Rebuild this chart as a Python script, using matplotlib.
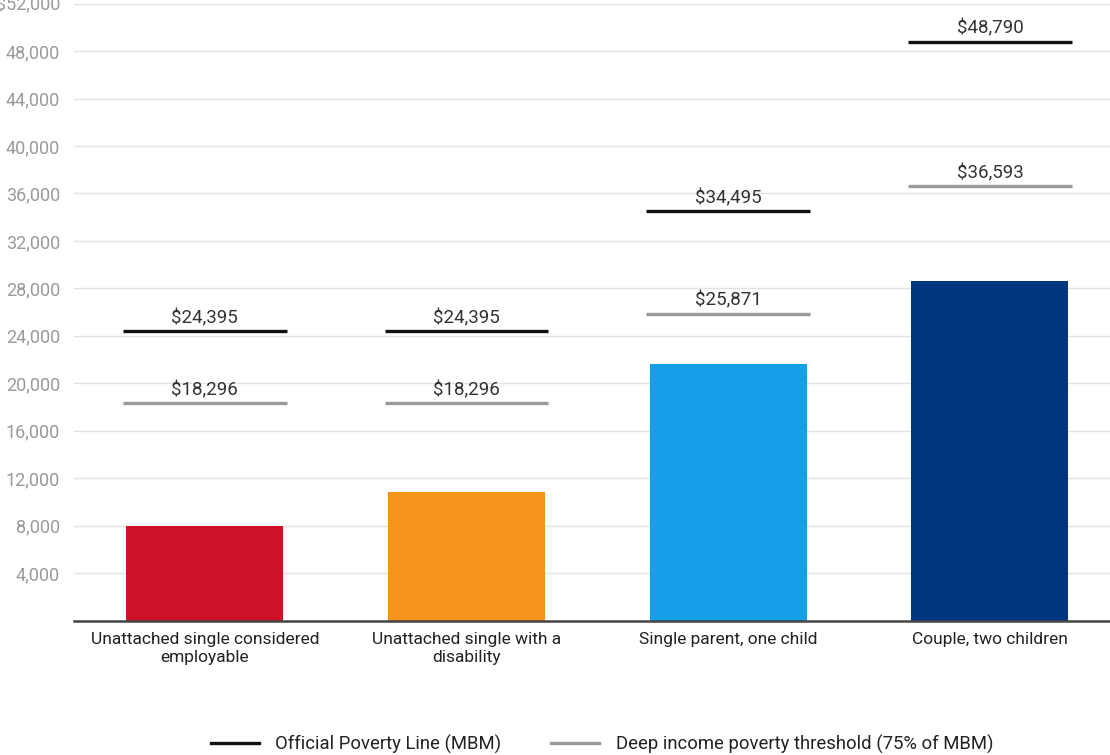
import matplotlib.pyplot as plt
from matplotlib.lines import Line2D
from matplotlib.ticker import MultipleLocator, FuncFormatter

# Chart data
categories = ['Unattached single considered\nemployable',
              'Unattached single with a\ndisability',
              'Single parent, one child',
              'Couple, two children']
incomes = [8000, 10850, 21650, 28650]
mbm_line = [24395, 24395, 34495, 48790]
deep_line = [18296, 18296, 25871, 36593]
bar_colors = ['#ce1126', '#f7941d', '#149fe8', '#003580']

plt.rcParams['font.family'] = ['Roboto', 'DejaVu Sans']

fig = plt.figure(figsize=(11.1, 7.55), dpi=100)
axis = fig.add_axes([74 / 1110, 134.5 / 755, 1036 / 1110, 616.85 / 755])

x = list(range(len(categories)))
axis.bar(x, incomes, width=0.6, color=bar_colors, zorder=2)

half = 0.313
for i in x:
    axis.plot([i - half, i + half], [mbm_line[i]] * 2, color='#111111', linewidth=2.4,
              solid_capstyle='butt', zorder=3)
    axis.plot([i - half, i + half], [deep_line[i]] * 2, color='#999999', linewidth=2.4,
              solid_capstyle='butt', zorder=3)
    axis.annotate('${:,}'.format(mbm_line[i]), (i, mbm_line[i]), xytext=(0, 3),
                  textcoords='offset points', ha='center', va='bottom',
                  fontsize=13.5, color='#333333')
    axis.annotate('${:,}'.format(deep_line[i]), (i, deep_line[i]), xytext=(0, 3),
                  textcoords='offset points', ha='center', va='bottom',
                  fontsize=13.5, color='#333333')


def tick_format(value, pos):
    if value == 0:
        return ''
    if value >= 52000:
        return '${:,.0f}'.format(value)
    return '{:,.0f}'.format(value)


axis.set_xlim(-0.5, -0.5 + 1036 / 261.7)
axis.set_ylim(0, 52000)
axis.get_yaxis().set_major_locator(MultipleLocator(4000))
axis.yaxis.set_major_formatter(FuncFormatter(tick_format))
axis.tick_params(axis='y', length=0, pad=10, labelsize=13, labelcolor='#9a9a9a')
axis.set_xticks(x)
axis.set_xticklabels(categories, fontsize=12.5, color='#222222', linespacing=1.25)
axis.tick_params(axis='x', length=0, pad=8)
axis.grid(visible=True, axis='y', which='major', color='#e3e3e3', linewidth=1, zorder=0)
axis.set_axisbelow(True)
axis.spines['top'].set(visible=False)
axis.spines['left'].set(visible=False)
axis.spines['right'].set(visible=False)
axis.spines['bottom'].set(color='#444444', linewidth=1.8)

handles = [Line2D([], [], color='#111111', linewidth=2.4),
           Line2D([], [], color='#999999', linewidth=2.4)]
fig.legend(handles, ['Official Poverty Line (MBM)', 'Deep income poverty threshold (75% of MBM)'],
           loc='center', bbox_to_anchor=(602 / 1110, 11 / 755), ncol=2, frameon=False,
           fontsize=13.3, handlelength=2.6, handletextpad=0.9, columnspacing=2.7,
           labelcolor='#222222', borderpad=0)

plt.savefig('out.png', dpi=100)
